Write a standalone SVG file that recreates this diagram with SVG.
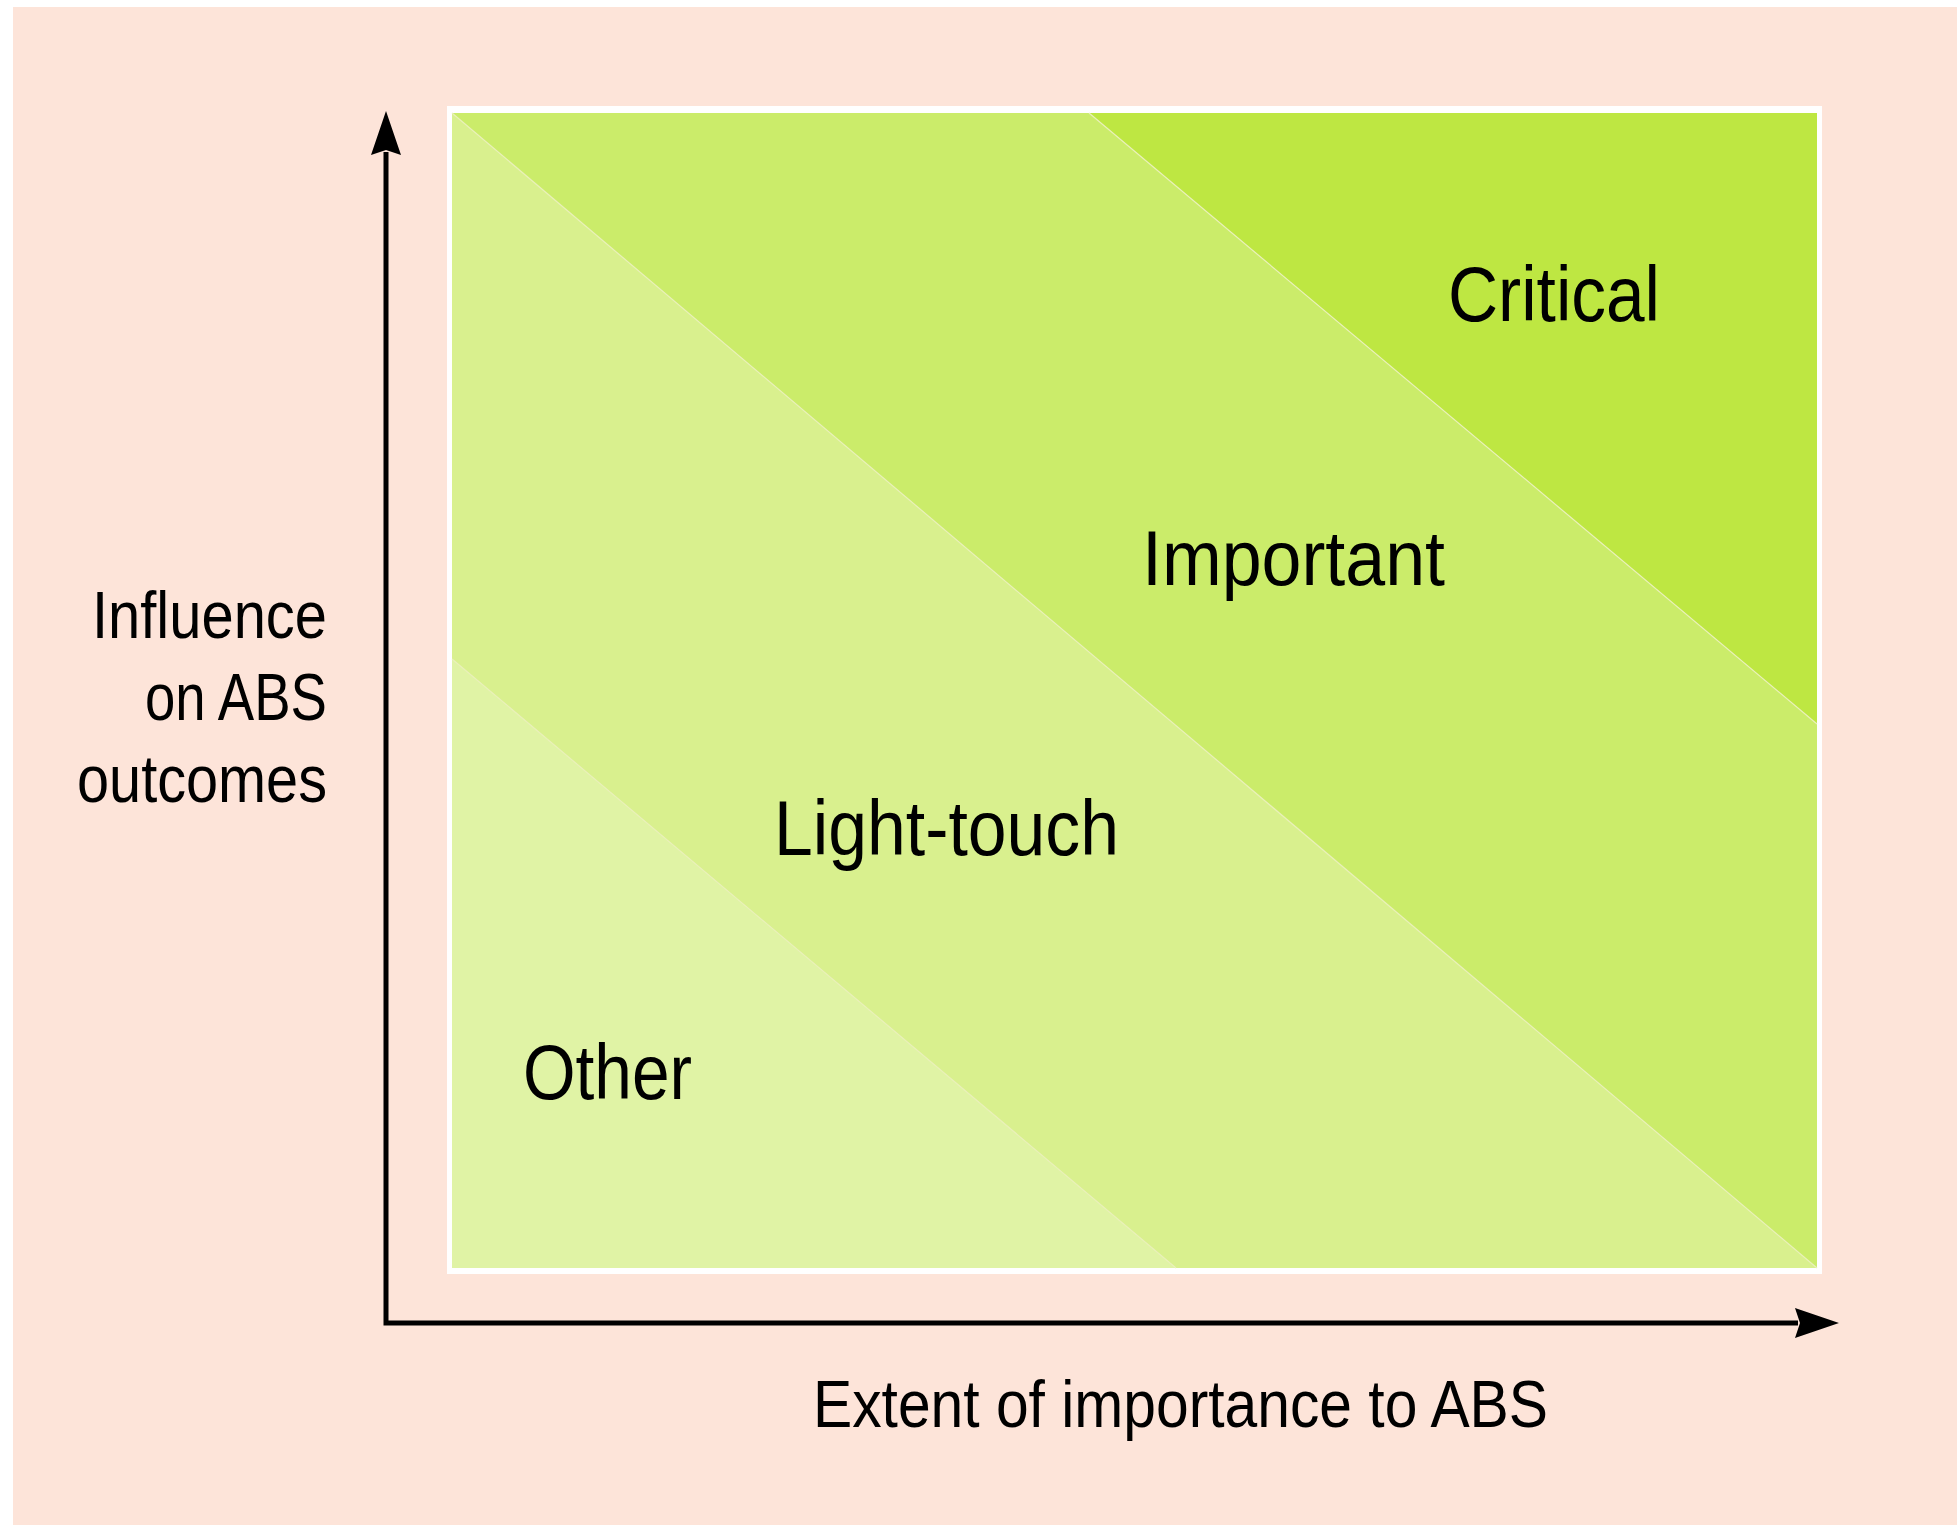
<svg xmlns="http://www.w3.org/2000/svg" width="1957" height="1525" viewBox="0 0 1957 1525">
<style>
.lbl{font-family:"Liberation Sans",Arial,sans-serif;fill:#000;}
.band{font-size:77px;}
.axis{font-size:66px;}
.edge{stroke:#E9F0B8;stroke-width:1.2;fill:none;}
</style>
<defs>
<marker id="arrow" markerUnits="userSpaceOnUse" markerWidth="46" markerHeight="34" viewBox="0 0 46 34" refX="3" refY="17" orient="auto-start-reverse">
<path d="M0,2 L44,17 L0,32 L5,17 Z" fill="#000"/>
</marker>
</defs>
<rect x="0" y="0" width="1957" height="1525" fill="#FFFFFF"/>
<rect x="13" y="7" width="1944" height="1518" fill="#FDE4D9"/>
<g id="matrix">
<rect x="447" y="106" width="1375" height="1168" fill="#FFFFFF"/>
<g id="critical">
<polygon points="1089,113 1817,113 1817,724" fill="#BEE742"/>
</g>
<g id="important">
<polygon points="452,113 1089,113 1817,724 1817,1268" fill="#CBEC6A"/>
</g>
<g id="light-touch">
<polygon points="452,113 1817,1268 1176,1268 452,659" fill="#D9F08E"/>
</g>
<g id="other">
<polygon points="452,659 1176,1268 452,1268" fill="#E0F3A5"/>
</g>
<line class="edge" x1="1089" y1="113" x2="1817" y2="724"/>
<line class="edge" x1="452" y1="113" x2="1817" y2="1268"/>
<line class="edge" x1="452" y1="659" x2="1176" y2="1268"/>
<text class="lbl band" x="1448" y="321" textLength="212" lengthAdjust="spacingAndGlyphs">Critical</text>
<text class="lbl band" x="1142" y="585" textLength="303" lengthAdjust="spacingAndGlyphs">Important</text>
<text class="lbl band" x="774" y="855" textLength="345" lengthAdjust="spacingAndGlyphs">Light-touch</text>
<text class="lbl band" x="523" y="1099" textLength="169" lengthAdjust="spacingAndGlyphs">Other</text>
</g>
<g id="connectors">
<path d="M386,152 V1323 H1798" fill="none" stroke="#000" stroke-width="5" stroke-linejoin="miter" marker-start="url(#arrow)" marker-end="url(#arrow)"/>
</g>
<g id="y-label">
<text class="lbl axis" x="327" y="638" text-anchor="end" textLength="235" lengthAdjust="spacingAndGlyphs">Influence</text>
<text class="lbl axis" x="327" y="720" text-anchor="end" textLength="182" lengthAdjust="spacingAndGlyphs">on ABS</text>
<text class="lbl axis" x="327" y="802" text-anchor="end" textLength="250" lengthAdjust="spacingAndGlyphs">outcomes</text>
</g>
<g id="x-label">
<text class="lbl axis" x="813" y="1427" textLength="735" lengthAdjust="spacingAndGlyphs">Extent of importance to ABS</text>
</g>
</svg>
